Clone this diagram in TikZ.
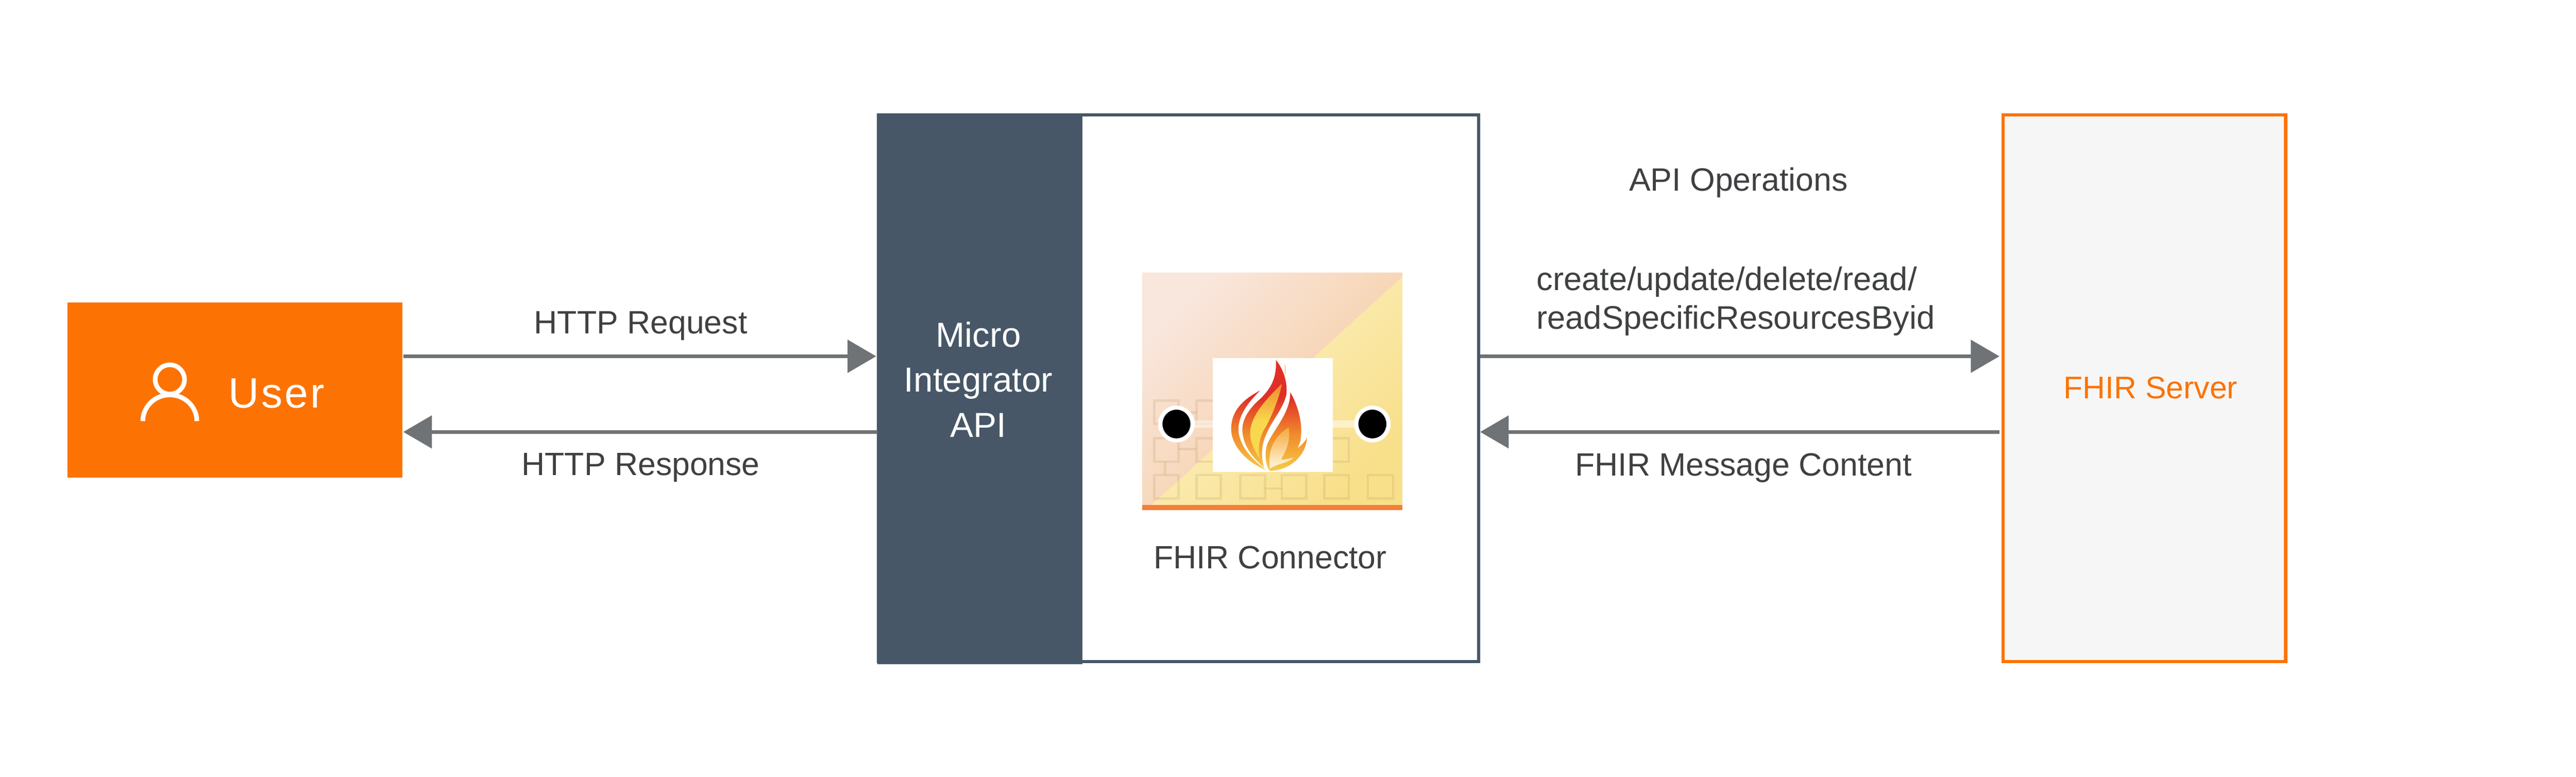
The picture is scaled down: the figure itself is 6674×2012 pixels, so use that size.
\documentclass[tikz,border=0pt]{standalone}
\usepackage{fontspec}
\setmainfont{Liberation Sans}
\usetikzlibrary{arrows.meta}
\definecolor{orangeA}{HTML}{FC7303}
\definecolor{slateA}{HTML}{475767}
\definecolor{arrowA}{HTML}{6F7376}
\definecolor{textA}{HTML}{3F4042}
\definecolor{panelA}{HTML}{F6F6F6}
\definecolor{fRed}{HTML}{E02F28}
\definecolor{fOrange}{HTML}{F08A2C}
\definecolor{fYellow}{HTML}{F8D84E}
\definecolor{fPale}{HTML}{FFF3C8}
\definecolor{pkA}{HTML}{F9E6DC}
\definecolor{pkB}{HTML}{F5C998}
\definecolor{yeA}{HTML}{FDF3CA}
\definecolor{yeB}{HTML}{F8DF8A}
\definecolor{bandA}{HTML}{F1803A}
\definecolor{cellA}{HTML}{B08850}
\pgfdeclareverticalshading{flameshade}{100bp}{
 color(0bp)=(fPale);
 color(22bp)=(fYellow);
 color(42bp)=(fOrange);
 color(58bp)=(fRed);
 color(100bp)=(fRed)}
\tikzset{
 x=0.1pt,y=-0.1pt,
 flow/.style={draw=arrowA,line width=0.85pt,-{Triangle[length=7.4pt,width=8.4pt,fill=arrowA]}},
 lbl/.style={text=textA,font=\fontsize{8.35}{10}\selectfont,inner sep=0pt,anchor=base},
 cell/.style={draw=cellA,draw opacity=.17,line width=0.65pt,fill=none},
}
\begin{document}
\begin{tikzpicture}
\useasboundingbox[fill=white] (0,0) rectangle (6674,2012);
% boxes
\node[anchor=north west,fill=orangeA,minimum width=86.8pt,minimum height=45.4pt,inner sep=0pt,outer sep=0pt] (user) at (175,783) {};
\node[anchor=north west,draw=slateA,line width=0.8pt,fill=white,minimum width=155.5pt,minimum height=141.6pt,inner sep=0pt,outer sep=0pt] (micro) at (2276,298) {};
\node[anchor=north west,fill=slateA,minimum width=53.2pt,minimum height=142.6pt,inner sep=0pt,outer sep=0pt] (api) at (2273,294) {};
\node[anchor=north west,draw=orangeA,line width=0.85pt,fill=panelA,minimum width=73.2pt,minimum height=141.6pt,inner sep=0pt,outer sep=0pt] (server) at (5190,298) {};
% connector ends
\coordinate (u1) at (user.east |- 0,923);
\coordinate (u2) at (user.east |- 0,1119);
\coordinate (a1) at (api.west |- 0,923);
\coordinate (a2) at (api.west |- 0,1119);
\coordinate (m1) at (micro.east |- 0,923);
\coordinate (m2) at (micro.east |- 0,1119);
\coordinate (s1) at (server.west |- 0,923);
\coordinate (s2) at (server.west |- 0,1119);
\draw[flow] ([xshift=0.2pt]u1) -- ([xshift=-0.3pt]a1);
\draw[flow] (a2) -- ([xshift=0.2pt]u2);
\draw[flow] ([xshift=0.4pt]m1) -- ([xshift=-1pt]s1);
\draw[flow] ([xshift=-1pt]s2) -- ([xshift=0.4pt]m2);
% connector icon, in zoom pixels
\begin{scope}[shift={(2900,680)},x=0.0510204pt,y=-0.043365pt]
 \shade[left color=pkA,right color=pkB,shading angle=45] (116,62) rectangle (1437,1478);
 \shade[left color=yeA,right color=yeB,shading angle=45] (1437,85) -- (1437,1448) -- (165,1448) -- cycle;
 \fill[bandA] (116,1448) rectangle (1437,1478);
 % faint cells
 \foreach \a/\b/\c/\d in {178/825/300/965,392/825/515/965,178/1050/300/1190,392/1050/515/1190,1040/1050/1165/1190,178/1270/300/1410,392/1270/515/1410,615/1270/740/1410,825/1270/950/1410,1040/1270/1165/1410,1262/1270/1390/1410}
  \draw[cell] (\a,\b) rectangle (\c,\d);
 \draw[cell] (300,895) -- (392,895) (300,1115) -- (392,1115) (232,1190) -- (232,1270) (740,1350) -- (825,1350);
 \draw[white,opacity=.5,line width=1.9pt] (380,965) -- (475,965) (1085,965) -- (1195,965);
 % centre
 \fill[white] (475,572) rectangle (1085,1250);
 % flame
 \begin{scope}
  \clip
   (715,765) .. controls (640,810) and (565,880) .. (568,1000) .. controls (570,1090) and (640,1190) .. (745,1240) .. controls (680,1180) and (615,1110) .. (605,1010) .. controls (600,920) and (650,840) .. (715,765) -- cycle
   (795,582) .. controls (835,640) and (855,720) .. (848,790) .. controls (830,880) and (770,950) .. (745,1030) .. controls (720,1090) and (720,1170) .. (735,1225) .. controls (670,1160) and (630,1090) .. (625,1010) .. controls (620,930) and (670,860) .. (720,810) .. controls (770,750) and (800,690) .. (795,582) -- cycle
   (868,775) .. controls (905,850) and (930,950) .. (922,1040) .. controls (920,1080) and (910,1090) .. (905,1110) .. controls (925,1090) and (945,1070) .. (952,1045) .. controls (955,1120) and (890,1240) .. (765,1245) .. controls (745,1220) and (735,1150) .. (750,1090) .. controls (775,1010) and (870,900) .. (868,775) -- cycle;
  \shade[shading=flameshade] (540,582) rectangle (970,1250);
 \end{scope}
 \shade[top color=fOrange,bottom color=fYellow,middle color=fYellow] (825,725) .. controls (770,790) and (670,900) .. (665,1010) .. controls (660,1070) and (690,1130) .. (712,1170) .. controls (700,1090) and (720,1020) .. (745,980) .. controls (780,900) and (815,800) .. (825,725) -- cycle;
 \shade[top color=fOrange!60!fYellow,bottom color=fPale!60!white] (860,985) .. controls (800,1030) and (750,1100) .. (765,1232) .. controls (800,1200) and (860,1200) .. (885,1165) .. controls (850,1175) and (830,1180) .. (822,1175) .. controls (850,1120) and (870,1060) .. (860,985) -- cycle;
 \fill[fYellow!60!fOrange] (838,600) .. controls (848,630) and (845,660) .. (838,685) .. controls (842,650) and (842,630) .. (838,600) -- cycle;
 % ports
 \foreach \cx/\nm in {290/pa,1285/pb}{
  \fill[white] (\cx,965) ellipse [x radius=93,y radius=110];
  \fill[black] (\cx,965) ellipse [x radius=71,y radius=86];
 }
\end{scope}
% user icon
\draw[white,line width=1.2pt] (440,983) circle (38);
\draw[white,line width=1.2pt] (370,1091) arc [start angle=180,end angle=360,x radius=70,y radius=68];
% labels
\node[anchor=base west,inner sep=0pt,text=white,font=\fontsize{11}{13}\selectfont\addfontfeatures{LetterSpace=5}] (userl) at (590,1056) {User};
\node[lbl] (l1) at (1660,864) {HTTP Request};
\node[lbl] (l2) at (1660,1231) {HTTP Response};
\node[lbl,text=white,anchor=center,align=center,font=\fontsize{9}{11.7}\selectfont] (l3) at (2535,983) {Micro\\Integrator\\API};
\node[lbl] (l4) at (3291,1473) {FHIR Connector};
\node[lbl] (l5) at (4504,494) {API Operations};
\node[lbl,anchor=base west,font=\fontsize{8.44}{10}\selectfont] (l6a) at (3979,752) {create/update/delete/read/};
\node[lbl,anchor=base west,font=\fontsize{8.44}{10}\selectfont] (l6b) at (3979,852) {readSpecificResourcesByid};
\node[lbl] (l7) at (4517,1233) {FHIR Message Content};
\node[lbl,text=orangeA,font=\fontsize{8.1}{10}\selectfont] (l8) at (5572,1032) {FHIR Server};
\end{tikzpicture}
\end{document}
